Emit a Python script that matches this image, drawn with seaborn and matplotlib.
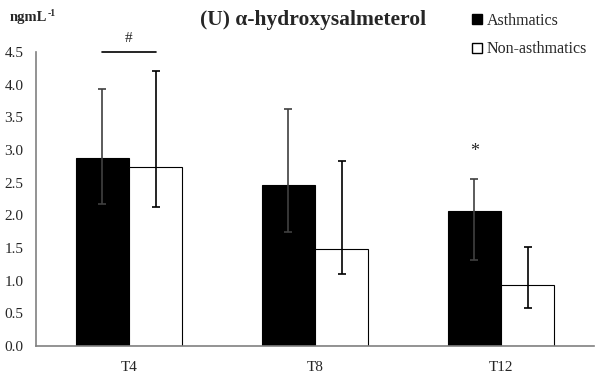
import pandas as pd
import numpy as np
import matplotlib
matplotlib.use("Agg")
import matplotlib.pyplot as plt
from matplotlib.patches import Patch
import seaborn as sns

# Values (ng/mL)
categories = ["T4", "T8", "T12"]
groups = ["Asthmatics", "Non-asthmatics"]
asth_mean = [2.87, 2.46, 2.06]
asth_low = [2.18, 1.75, 1.31]
asth_high = [3.93, 3.63, 2.56]
non_mean = [2.74, 1.49, 0.93]
non_low = [2.12, 1.10, 0.58]
non_high = [4.21, 2.83, 1.52]
yticks = [0.0, 0.5, 1.0, 1.5, 2.0, 2.5, 3.0, 3.5, 4.0, 4.5]

df = pd.DataFrame({
    "time": categories * 2,
    "group": [groups[0]] * 3 + [groups[1]] * 3,
    "value": asth_mean + non_mean,
})

sns.set_style("white")
plt.rcParams["font.family"] = ["Liberation Serif", "DejaVu Serif"]

fig = plt.figure(figsize=(6, 3.74), dpi=100)
ax = fig.add_axes([36 / 600, 1 - 346 / 374, 558 / 600, 294 / 374])

sns.barplot(data=df, x="time", y="value", hue="group", order=categories,
            hue_order=groups, palette=["black", "white"], width=0.57,
            errorbar=None, edgecolor="black", linewidth=0.8, legend=False, ax=ax)

bar_sets = [list(c.patches) for c in ax.containers]

# asymmetric error bars
lows = [asth_low, non_low]
highs = [asth_high, non_high]
means = [asth_mean, non_mean]
ecolors = ["#404040", "black"]
for i, bars in enumerate(bar_sets):
    xs = [p.get_x() + p.get_width() / 2 for p in bars]
    m = np.array(means[i])
    yerr = [m - np.array(lows[i]), np.array(highs[i]) - m]
    ax.errorbar(xs, m, yerr=yerr, fmt="none", ecolor=ecolors[i],
                elinewidth=1.2, capsize=3, capthick=1.2, zorder=5)

# significance marks
pa = bar_sets[0][0]
pn = bar_sets[1][0]
xa = pa.get_x() + pa.get_width() / 2
xn = pn.get_x() + pn.get_width() / 2
ax.plot([xa, xn], [4.5, 4.5], color="black", lw=1.2, clip_on=False)
ax.text((xa + xn) / 2, 4.6, "#", ha="center", va="bottom", fontsize=11)
p12 = bar_sets[0][2]
ax.text(p12.get_x() + p12.get_width() / 2, 2.97, "*", ha="center",
        va="center", fontsize=13)

ax.set_xlim(-0.5, 2.5)
ax.set_ylim(0, 4.5)
ax.set_yticks(yticks)
ax.set_yticklabels([f"{v:.1f}" for v in yticks])
ax.set_xticks(range(3))
ax.set_xticklabels(categories)
ax.set_xticks([0.5, 1.5, 2.5], minor=True)
ax.tick_params(axis="x", which="major", length=0, pad=11, labelsize=11)
ax.tick_params(axis="x", which="minor", length=4, color="#808080", direction="out")
ax.tick_params(axis="y", length=4, color="#808080", direction="out", labelsize=11, pad=5)
ax.set_xlabel("")
ax.set_ylabel("")
for s in ["top", "right"]:
    ax.spines[s].set_visible(False)
for s in ["left", "bottom"]:
    ax.spines[s].set_color("#808080")
    ax.spines[s].set_linewidth(1.2)

fig.text(10 / 600, 1 - 17 / 374, "ngmL", fontsize=10.5,
         fontweight="bold", va="center", ha="left")
fig.text(48 / 600, 1 - 13 / 374, "-1", fontsize=7,
         fontweight="bold", va="center", ha="left")
fig.text(313 / 600, 1 - 20 / 374, "(U) α-hydroxysalmeterol", fontsize=15.5,
         fontweight="bold", va="center", ha="center")

handles = [Patch(facecolor="black", edgecolor="black"),
           Patch(facecolor="white", edgecolor="black")]
fig.legend(handles, groups, loc="upper left", bbox_to_anchor=(458 / 600, 1.005),
           frameon=False, fontsize=11.5, handlelength=0.6, handleheight=0.6,
           handletextpad=0.3, labelspacing=0.8)

fig.savefig("out.png", dpi=100)
